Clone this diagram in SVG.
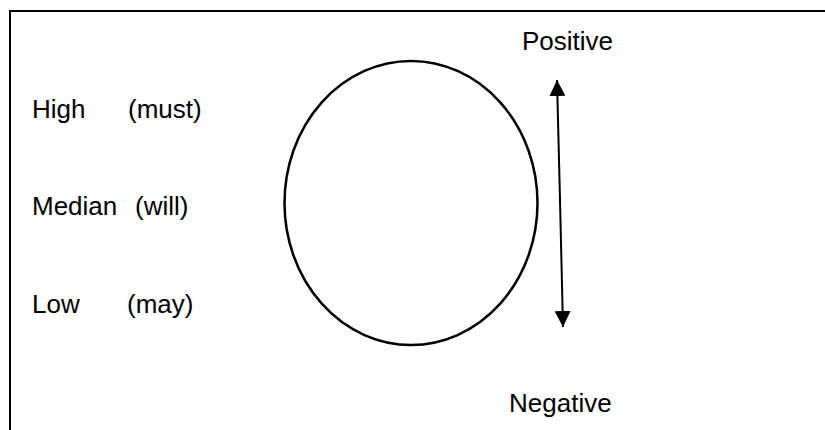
<svg xmlns="http://www.w3.org/2000/svg" width="825" height="430" viewBox="0 0 825 430">
<style>
text{font-family:"Liberation Sans",Arial,sans-serif;font-size:26px;fill:#000}
.ln{stroke:#000;stroke-width:2;fill:none}
</style>
<defs>
<marker id="ah2" viewBox="0 0 10 10" refX="10" refY="5" markerWidth="16" markerHeight="16" orient="auto" markerUnits="userSpaceOnUse">
<path d="M0,0 L10,5 L0,10 Z" fill="#000"/>
</marker>
</defs>
<rect width="825" height="430" fill="#fff"/>
<g id="frame"><path class="ln" d="M10,440 L10,11 L830,11" stroke-width="2.5"/></g>
<g id="labels-left">
<text x="32" y="118">High</text><text x="128" y="118">(must)</text>
<text x="32" y="215">Median</text><text x="135" y="215">(will)</text>
<text x="32" y="313">Low</text><text x="127" y="313">(may)</text>
</g>
<g id="oval"><ellipse cx="411" cy="203" rx="126.5" ry="142" fill="none" stroke="#000" stroke-width="2.5"/></g>
<g id="positive"><text x="522" y="50">Positive</text></g>
<g id="negative"><text x="509" y="412">Negative</text></g>
<g id="connectors">
<line class="ln" x1="560" y1="200" x2="557" y2="80" marker-end="url(#ah2)"/>
<line class="ln" x1="560" y1="200" x2="563" y2="327" marker-end="url(#ah2)"/>
</g>
</svg>
